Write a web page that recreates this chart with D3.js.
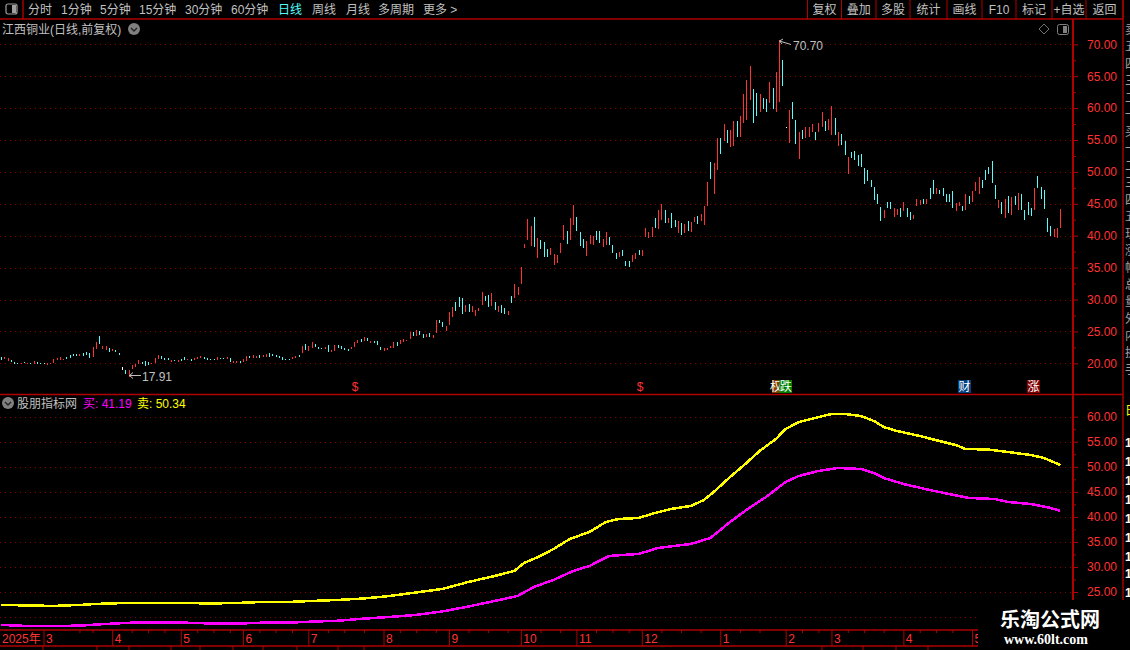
<!DOCTYPE html>
<html>
<head>
<meta charset="utf-8">
<script src="https://cdn.jsdelivr.net/npm/d3@7"></script>
<style>
  html, body { margin: 0; padding: 0; background: #000; overflow: hidden; }
  svg { display: block; }
  text { font-family: "Liberation Sans", "Noto Sans CJK SC", sans-serif; font-size: 12px; }
</style>
</head>
<body>
<div id="chart"></div>
<script>
// Daily bars, left to right: low, high and direction (1 up, -1 down, 0 flat)
const candleLow = [
  20.47,20.6,20.4,20.15,19.95,19.9,19.85,20.0,19.85,19.9,19.95,19.85,19.85,19.85,19.8,19.85,20.1,20.45,20.45,20.45,20.65,20.8,21.1,21.1,21.2,21.2,21.25,20.85,21.0,22.3,23.1,
  22.19,22.08,21.77,21.88,21.77,21.25,18.96,18.28,17.91,19.06,19.48,19.84,19.84,19.58,19.69,19.95,20.1,20.63,20.63,20.52,20.52,20.21,20.36,20.21,20.36,20.52,20.47,20.36,20.52,20.63,20.89,20.63,20.52,20.52,20.52,20.52,20.63,20.63,20.63,20.21,20.1,20.0,20.0,20.21,20.36,20.78,20.89,20.78,20.83,20.99,20.99,21.04,21.09,20.99,20.78,20.52,20.52,20.52,20.63,20.78,20.99,
  21.61,22.03,21.93,22.34,22.55,22.24,22.24,22.24,21.72,21.72,21.93,22.34,22.24,22.08,21.93,22.24,22.55,23.18,23.28,23.49,23.49,23.18,23.18,22.86,22.08,21.93,22.08,22.34,22.34,22.71,23.02,23.33,23.49,23.8,24.27,24.27,24.43,23.96,24.11,24.11,23.96,24.74,26.3,25.68,25.05,25.99,27.24,28.18,28.8,27.71,28.02,28.02,28.02,27.4,28.18,29.11,29.74,28.8,28.96,28.33,28.02,27.86,27.71,27.55,29.43,30.21,30.68,32.4,
  38.02,39.27,38.33,38.18,36.46,37.86,36.61,36.61,36.93,35.36,35.68,37.24,39.27,38.65,39.27,41.61,40.68,38.33,38.02,36.77,38.65,38.49,39.27,38.8,38.18,38.49,38.49,37.24,36.3,36.61,36.77,35.21,35.05,35.83,36.3,36.93,36.77,39.74,39.58,39.74,41.15,40.99,42.4,41.93,41.93,41.15,41.3,40.36,40.05,40.36,40.68,40.52,42.08,41.77,42.24,41.61,
  44.67,48.9,46.55,50.31,52.82,54.86,54.54,53.92,54.07,55.48,55.48,57.68,58.15,61.28,57.68,58.77,59.4,59.87,59.4,60.81,59.87,59.4,60.97,63.47,56.89,54.54,58.3,54.39,52.04,55.17,55.33,55.48,56.27,55.01,56.27,57.05,56.42,56.58,55.8,55.8,54.07,54.23,52.66,49.69,52.19,51.88,50.94,50.78,48.12,48.59,47.65,45.61,44.99,
  42.24,42.71,44.27,44.11,42.86,43.18,42.86,43.8,42.86,42.4,42.55,44.58,44.74,44.9,44.9,45.83,46.61,46.61,46.46,46.3,45.36,45.36,44.27,43.8,44.58,43.8,43.96,44.9,45.36,46.93,46.46,47.55,48.8,49.74,48.33,45.83,44.27,43.33,42.71,43.49,43.18,44.74,43.96,43.96,42.4,43.18,43.02,43.96,47.4,45.83,44.11,40.52,39.9,39.74,39.58,41.15
];
const candleHigh = [
  20.99,21.0,20.9,20.5,20.25,20.05,20.1,20.25,20.0,20.0,20.35,20.2,20.0,20.0,20.0,20.05,20.6,20.85,21.0,20.7,20.95,21.25,21.4,21.4,21.4,21.6,21.8,21.55,22.55,23.35,24.3,
  22.71,22.71,22.4,22.19,22.08,21.67,19.43,18.96,18.96,19.74,19.84,20.52,20.21,20.36,20.21,20.1,20.83,21.3,21.15,20.83,20.83,20.52,20.52,20.52,20.73,20.99,20.63,20.73,20.83,21.04,21.15,20.99,20.83,20.73,20.73,20.99,20.83,20.83,20.99,20.83,20.36,20.36,20.36,20.63,21.15,21.15,21.25,21.15,21.3,21.3,21.41,21.56,21.46,21.3,21.15,20.99,20.73,20.73,20.94,21.15,21.3,
  22.71,23.07,22.71,23.33,23.07,22.55,22.4,22.55,22.86,22.14,22.86,22.86,22.71,22.4,22.24,22.55,23.33,23.65,23.8,24.11,23.96,23.49,23.49,23.49,22.55,22.4,22.4,22.71,23.33,23.33,23.65,23.8,23.65,24.9,24.9,25.21,25.05,24.58,24.58,24.74,24.43,26.77,26.77,26.46,25.83,28.02,28.8,29.58,30.36,30.21,29.11,29.27,28.96,28.33,28.65,31.15,30.52,30.68,30.99,29.58,28.96,29.11,28.65,28.18,30.52,32.4,31.93,35.05,
  38.65,42.55,41.46,42.86,39.58,39.27,38.96,37.86,38.02,37.08,36.93,38.8,41.61,40.68,42.71,44.74,42.86,40.52,39.43,39.11,40.05,39.9,40.68,40.68,39.43,40.52,39.74,38.49,37.24,37.4,37.71,35.99,35.99,36.93,37.24,37.71,37.71,41.15,40.52,41.3,42.71,43.96,44.9,43.96,42.71,43.49,42.4,42.24,41.93,41.77,42.24,42.08,42.86,43.02,43.33,44.58,
  48.38,51.57,51.41,55.33,55.33,57.52,56.58,56.58,57.99,57.99,58.77,62.22,64.41,66.61,63.0,62.38,62.22,61.59,61.44,64.1,63.16,65.67,70.7,67.55,57.05,59.71,60.97,58.15,56.27,56.58,57.05,57.05,57.52,56.27,57.68,59.4,57.99,58.3,60.34,58.46,56.27,55.95,54.86,52.35,53.13,53.29,52.66,52.82,50.63,50.31,48.75,47.65,46.55,
  44.43,43.96,45.36,45.36,44.27,44.11,44.27,45.21,44.27,43.65,43.18,45.68,45.52,45.68,45.83,47.4,48.8,47.55,47.24,47.55,46.61,46.46,46.93,45.05,45.21,44.58,46.46,46.15,47.08,48.49,49.27,48.8,50.36,50.83,51.77,48.02,45.52,45.21,45.68,46.3,45.99,46.3,46.77,46.61,43.96,45.21,44.27,47.55,49.43,47.71,47.24,42.71,41.46,41.0,41.15,44.11
];
const candleDir = [
  -1,1,1,-1,-1,-1,1,-1,1,-1,1,-1,-1,-1,1,1,1,1,1,1,-1,-1,-1,-1,1,-1,-1,-1,1,1,-1,
  1,1,-1,1,-1,-1,0,-1,1,1,1,1,-1,-1,-1,1,1,1,-1,-1,-1,1,-1,1,-1,-1,1,-1,1,1,1,-1,-1,-1,-1,1,-1,-1,1,-1,1,1,-1,1,1,-1,1,1,-1,1,1,-1,-1,-1,-1,-1,-1,-1,1,1,-1,
  1,-1,1,1,-1,-1,-1,1,-1,1,1,-1,-1,-1,-1,1,1,1,-1,1,-1,1,-1,-1,-1,1,1,1,1,-1,1,1,1,1,-1,1,-1,-1,1,-1,1,1,-1,-1,1,1,1,-1,-1,-1,1,-1,1,1,1,1,-1,-1,1,-1,1,-1,-1,1,-1,1,1,1,
  1,1,1,-1,1,-1,-1,-1,1,1,1,1,1,-1,1,1,-1,-1,-1,1,1,1,-1,-1,1,1,-1,-1,-1,1,-1,-1,-1,1,1,-1,1,1,1,1,-1,1,1,-1,1,-1,-1,1,-1,1,-1,1,1,-1,1,1,
  1,-1,1,1,-1,1,-1,1,1,-1,1,1,1,1,-1,-1,1,-1,-1,1,-1,1,1,-1,0,1,-1,-1,1,-1,1,1,1,-1,1,1,-1,1,1,-1,1,-1,-1,1,-1,-1,-1,-1,-1,-1,-1,-1,-1,
  -1,1,-1,-1,1,1,-1,1,-1,-1,1,1,1,-1,1,-1,-1,1,-1,-1,-1,-1,-1,1,1,-1,1,-1,1,1,1,-1,-1,-1,-1,-1,1,-1,1,-1,1,-1,1,-1,-1,-1,-1,1,-1,-1,-1,-1,-1,1,1,1
];

// Indicator lines, read at these bar positions
const sellIdx = [0,8,16,24,32,40,48,56,64,72,80,88,95,103,111,119,127,135,143,151,157,160,165,169,174,180,185,189,195,200,205,211,215,218,223,228,232,237,240,244,249,254,258,263,267,270,274,281,287,292,295,302,308,315,319,324];
const sellLine = [22.42,22.32,22.22,22.42,22.71,22.81,22.81,22.81,22.71,22.81,23.01,23.01,23.21,23.41,23.71,24.21,24.91,25.61,27.01,28.2,29.2,30.8,32.2,33.59,35.59,36.99,38.98,39.58,39.78,40.78,41.58,42.18,43.37,44.97,47.96,50.76,53.15,55.55,57.54,58.94,59.74,60.54,60.54,60.14,59.14,57.94,57.15,56.15,55.15,54.35,53.55,53.45,52.95,52.35,51.76,50.34];
const buyIdx = [0,8,16,24,32,40,48,56,64,72,80,88,95,103,111,119,127,135,143,151,158,163,169,175,180,186,195,201,211,217,223,228,234,240,244,250,256,263,267,270,276,284,290,296,304,308,315,321,324];
const buyLine = [18.42,18.22,18.22,18.28,18.62,18.88,18.88,18.88,18.72,18.68,18.88,18.88,19.08,19.26,19.68,20.02,20.42,21.12,22.11,23.21,24.21,26.0,27.41,29.2,30.2,32.2,32.6,33.79,34.59,35.79,38.98,41.38,43.97,46.97,48.16,49.16,49.76,49.56,48.76,47.76,46.57,45.37,44.57,43.77,43.57,42.97,42.57,41.78,41.19];

// Axis ticks
const priceTicks = [20,25,30,35,40,45,50,55,60,65,70];
const priceMinor = [22.5,27.5,32.5,37.5,42.5,47.5,52.5,57.5,62.5,67.5];
const indTicks = [25,30,35,40,45,50,55,60];
const indGrid = [20,25,30,35,40,45,50,55,60];
const indMinor = [27.5,32.5,37.5,42.5,47.5,52.5,57.5];
const monthIdx = [13,34,55,74,94,117,137,159,176,196,220,240,254,276,297];
const monthLabel = ["3","4","5","6","7","8","9","10","11","12","1","2","3","4","5"];
const weekIdx = [24,28,40,45,50,60,65,70,79,84,89,100,105,111,122,127,133,143,149,155,165,171,182,187,192,202,208,214,226,232,245,250,259,264,270,281,286,291,302];

// Toolbars
const periodNames = ["分时","1分钟","5分钟","15分钟","30分钟","60分钟","日线","周线","月线","多周期","更多 >"];
const periodX = [28,61,100,139,185,231,278,312,346,378,423];
const toolNames = ["复权","叠加","多股","统计","画线","F10","标记","+自选","返回"];
const toolEdges = [807.5,841.5,876,910,947,982,1016,1052,1086,1123];
const footEdges = [43,97,129,171,200,233,263,297,338,364,822,863,896,928];

const W = 1130, H = 650;
const RED = "#ff3232", LINE = "#b00000", GRID = "#8a0000", GREY = "#c0c0c0", CYAN = "#54fcfc";

const svg = d3.select("#chart").append("svg").attr("width", W).attr("height", H);
svg.append("rect").attr("width", W).attr("height", H).attr("fill", "#000");

// Scales
const x = d3.scaleLinear().domain([0, candleLow.length - 1]).range([1, 1060.3]);
const yPrice = d3.scaleLinear().domain([20, 70]).range([363.3, 44.3]);
const yInd = d3.scaleLinear().domain([25, 60]).range([592, 416.7]);

// Dotted grid
function grid(values, y, right) {
  svg.append("g").selectAll("line").data(values).enter().append("line")
    .attr("x1", 0).attr("x2", right)
    .attr("y1", d => Math.round(y(d)) + 0.5).attr("y2", d => Math.round(y(d)) + 0.5)
    .attr("stroke", GRID).attr("stroke-dasharray", "1 4")
    .attr("shape-rendering", "crispEdges");
}
grid(priceTicks, yPrice, 1072);
grid(indGrid, yInd, 1072);

// Bars
svg.append("g").selectAll("rect").data(candleLow).enter().append("rect")
  .attr("x", (d, i) => Math.round(x(i)))
  .attr("y", (d, i) => yPrice(candleHigh[i]))
  .attr("width", 1)
  .attr("height", (d, i) => Math.max(1, yPrice(d) - yPrice(candleHigh[i])))
  .attr("shape-rendering", "crispEdges")
  .attr("fill", (d, i) => candleDir[i] > 0 ? RED : candleDir[i] < 0 ? CYAN : "#fff");

// Indicator lines
function drawLine(idx, values, color) {
  const path = d3.line().x((d, i) => x(idx[i])).y(d => yInd(d));
  svg.append("path").attr("d", path(values))
    .attr("fill", "none").attr("stroke", color).attr("stroke-width", 2.5)
    .attr("shape-rendering", "crispEdges");
}
drawLine(sellIdx, sellLine, "#ffff00");
drawLine(buyIdx, buyLine, "#ff00ff");

// Right axes
function rightAxis(y, ticks, minor) {
  const g = svg.append("g").attr("transform", "translate(1073,0)")
    .call(d3.axisRight(y).tickValues(ticks).tickSize(5).tickPadding(9).tickFormat(d3.format(".2f")));
  g.select(".domain").remove();
  g.selectAll("line").attr("stroke", LINE);
  g.selectAll("text").attr("fill", RED).style("font-size", "12px").style("font-family", "Liberation Sans");
  const m = svg.append("g").attr("transform", "translate(1073,0)")
    .call(d3.axisRight(y).tickValues(minor).tickSize(3).tickFormat(""));
  m.select(".domain").remove();
  m.selectAll("line").attr("stroke", LINE);
}
rightAxis(yPrice, priceTicks, priceMinor);
rightAxis(yInd, indTicks, indMinor);

// Month axis
const monthAxis = svg.append("g").attr("transform", "translate(0,630)")
  .call(d3.axisBottom(x).tickValues(monthIdx).tickSize(16).tickFormat((d, i) => monthLabel[i]));
monthAxis.select(".domain").remove();
monthAxis.selectAll("line").attr("stroke", LINE);
monthAxis.selectAll("text").attr("fill", RED).attr("text-anchor", "start")
  .attr("x", 2).attr("y", 3).attr("dy", "0.85em").style("font-size", "12px");
const weekAxis = svg.append("g").attr("transform", "translate(0,630)")
  .call(d3.axisBottom(x).tickValues(weekIdx).tickSize(3).tickFormat(""));
weekAxis.select(".domain").remove();
weekAxis.selectAll("line").attr("stroke", LINE);
svg.append("text").attr("x", 2).attr("y", 643).attr("fill", RED).text("2025年");

// Frame lines
const frame = [
  [0, 19, 1123, 19], [23, 0, 23, 19],
  [0, 394.5, 1123, 394.5],
  [0, 630, 978, 630], [0, 646, 978, 646],
  [1073, 19, 1073, 600], [1123, 0, 1123, 600]
];
svg.append("g").selectAll("line").data(frame).enter().append("line")
  .attr("x1", d => d[0]).attr("y1", d => d[1]).attr("x2", d => d[2]).attr("y2", d => d[3])
  .attr("stroke", LINE).attr("stroke-width", d => d[0] === d[2] && d[0] === 1073 ? 2 : 1.4);
svg.append("g").selectAll("line").data(toolEdges).enter().append("line")
  .attr("x1", d => d).attr("x2", d => d).attr("y1", 0).attr("y2", 19).attr("stroke", LINE);
svg.append("g").selectAll("line").data(footEdges).enter().append("line")
  .attr("x1", d => d).attr("x2", d => d).attr("y1", 646).attr("y2", 650).attr("stroke", LINE);

// Top toolbar
svg.append("rect").attr("x", 6).attr("y", 4).attr("width", 11).attr("height", 10).attr("rx", 2)
  .attr("fill", "none").attr("stroke", "#a0a0a0").attr("stroke-width", 1.2);
svg.append("rect").attr("x", 12).attr("y", 5).attr("width", 4).attr("height", 8).attr("fill", "#a0a0a0");
svg.append("g").selectAll("text").data(periodNames).enter().append("text")
  .attr("x", (d, i) => periodX[i]).attr("y", 14)
  .attr("fill", d => d === "日线" ? CYAN : GREY).text(d => d);
svg.append("g").selectAll("text").data(toolNames).enter().append("text")
  .attr("x", (d, i) => (toolEdges[i] + toolEdges[i + 1]) / 2).attr("y", 14)
  .attr("text-anchor", "middle").attr("fill", GREY).text(d => d);

// Round grey menu buttons
function menuDot(cx, cy) {
  svg.append("circle").attr("cx", cx).attr("cy", cy).attr("r", 6).attr("fill", "#808080");
  svg.append("path").attr("d", `M${cx - 3},${cy - 1}L${cx},${cy + 2}L${cx + 3},${cy - 1}`)
    .attr("fill", "none").attr("stroke", "#222").attr("stroke-width", 1.4);
}

// Titles
svg.append("text").attr("x", 2).attr("y", 34).attr("fill", GREY).text("江西铜业(日线,前复权)");
menuDot(134, 29);
svg.append("path").attr("d", "M1044,24L1049,29L1044,34L1039,29Z").attr("fill", "none").attr("stroke", "#707070");
svg.append("rect").attr("x", 1057.5).attr("y", 24.5).attr("width", 11).attr("height", 10).attr("rx", 2)
  .attr("fill", "none").attr("stroke", "#808080");
svg.append("rect").attr("x", 1063).attr("y", 26).attr("width", 4).attr("height", 7).attr("fill", "#808080");

menuDot(8, 403);
svg.append("text").attr("x", 17).attr("y", 408).attr("fill", GREY).text("股朋指标网");
svg.append("text").attr("x", 83).attr("y", 408).attr("fill", "#ff00ff").text("买: 41.19");
svg.append("text").attr("x", 137).attr("y", 408).attr("fill", "#ffff00").text("卖: 50.34");

// High and low callouts
svg.append("path").attr("d", "M791,44.5L779.5,41M783,39L779.5,41L782,44").attr("fill", "none").attr("stroke", GREY);
svg.append("text").attr("x", 793).attr("y", 49.5).attr("fill", GREY).text("70.70");
svg.append("path").attr("d", "M141,375.5H129.5M133,372.5L129.5,375.5L133,378.5").attr("fill", "none").attr("stroke", GREY);
svg.append("text").attr("x", 142).attr("y", 380.5).attr("fill", GREY).text("17.91");

// Event badges
function badge(x0, w, fill, label) {
  svg.append("rect").attr("x", x0).attr("y", 380).attr("width", w).attr("height", 13).attr("fill", fill);
  svg.append("text").attr("x", x0 + w / 2).attr("y", 391).attr("text-anchor", "middle")
    .attr("fill", "#fff").text(label);
}
svg.append("text").attr("x", 355).attr("y", 391).attr("text-anchor", "middle").attr("fill", RED).text("$");
svg.append("text").attr("x", 640).attr("y", 391).attr("text-anchor", "middle").attr("fill", RED).text("$");
badge(772, 8, "#804000", "权");
badge(779.5, 12.5, "#008000", "跌");
badge(958, 13, "#004080", "财");
badge(1027, 13, "#800000", "涨");

// Cut-off side panel at the right edge
const sideGrey = "卖五四三二一买一二三四五现涨幅总量外内换手".split("");
svg.append("g").selectAll("text").data(sideGrey).enter().append("text")
  .attr("x", 1125).attr("y", (d, i) => 34 + i * 17).attr("fill", "#a0a0a0").text(d => d);
svg.append("text").attr("x", 1125).attr("y", 415).attr("fill", "#ffff00").text("日");
[447, 466, 485, 504, 523, 542, 561, 578, 597].forEach(y => {
  svg.append("text").attr("x", 1125).attr("y", y).attr("fill", "#fff").attr("font-weight", "bold").text("1");
});

// Watermark
svg.append("rect").attr("x", 978).attr("y", 600).attr("width", 152).attr("height", 50).attr("fill", "#000");
svg.append("text").attr("x", 1050).attr("y", 627).attr("text-anchor", "middle").attr("fill", "#fff")
  .attr("font-weight", "bold").style("font-size", "20px").style("font-family", "Noto Sans CJK SC").text("乐淘公式网");
svg.append("text").attr("x", 1046).attr("y", 644).attr("text-anchor", "middle").attr("fill", "#fff")
  .attr("font-weight", "bold").style("font-size", "14px").style("font-family", "Liberation Serif").text("www.60lt.com");
</script>
</body>
</html>
